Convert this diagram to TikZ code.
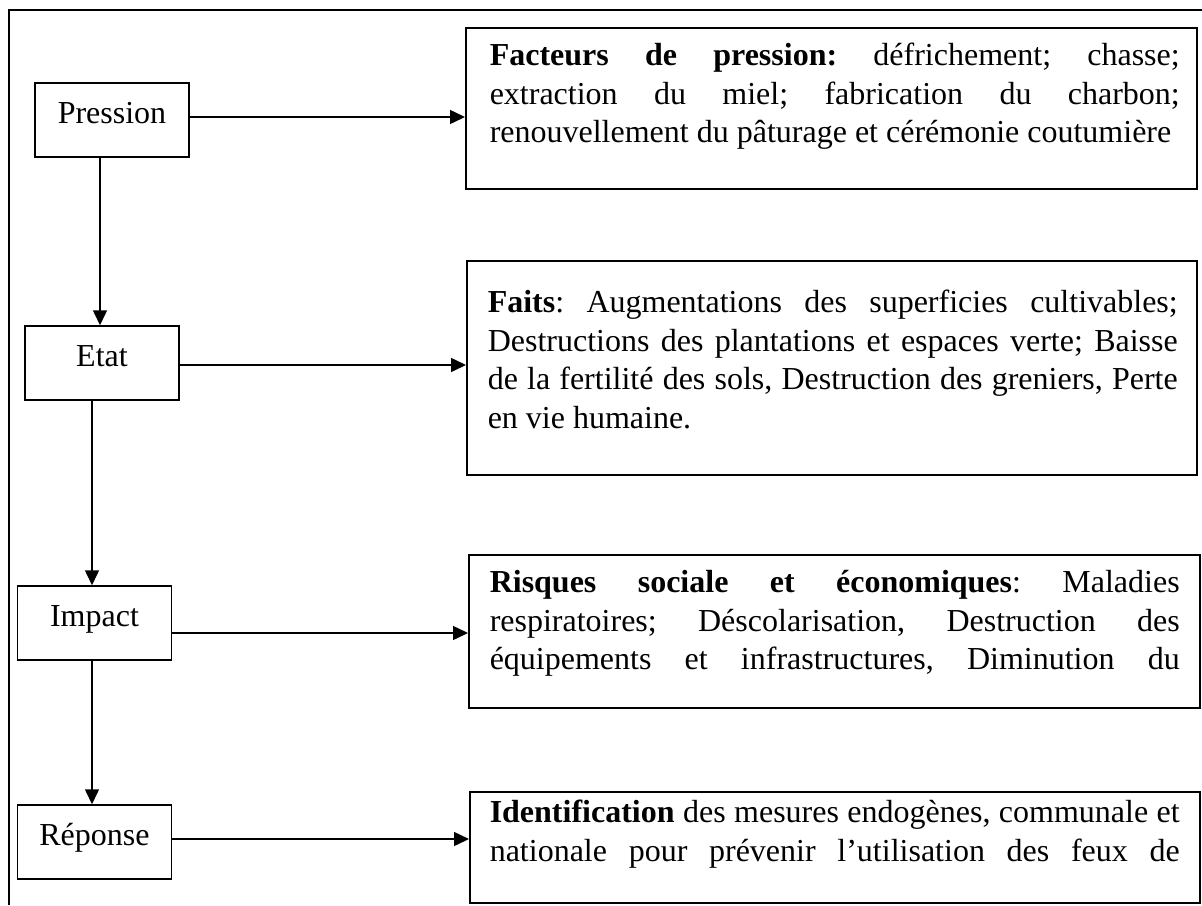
\documentclass[tikz,border=0pt]{standalone}
\usepackage{fontspec}
\setmainfont{Liberation Serif}
\usetikzlibrary{arrows.meta,calc}
\newcommand{\jline}[1]{\makebox[690pt][s]{#1}}
\newcommand{\lline}[1]{\makebox[690pt][l]{#1}}
\begin{document}
\frenchspacing
\begin{tikzpicture}[x=1pt,y=-1pt,
  every node/.style={font=\fontsize{32pt}{38.5pt}\selectfont},
  lbox/.style={draw, line width=1.5pt, minimum width=154pt, inner sep=0pt,
    text height=40.5pt, text depth=33.5pt},
  tbox/.style={draw, line width=1.5pt, inner sep=0pt, anchor=north west},
  arr/.style={line width=1.5pt, -{Triangle[length=15pt,width=14pt]}}]
\useasboundingbox (0,0) rectangle (1202,905);
% outer frame (cut by the page)
\draw[line width=1.5pt] (9,905) -- (9,10) -- (1202,10);

% left column
\node[lbox] (p)  at (112,120)  {Pression};
\node[lbox] (e)  at (102,363)  {Etat};
\node[lbox] (im) at (94.5,623) {Impact};
\node[lbox] (r)  at (94.5,842) {Réponse};

% right column
\node[tbox, text height=38pt, text depth=123pt] (fp) at (465,27)
 {\hspace*{24pt}\parbox[t]{690pt}{%
  \jline{\textbf{Facteurs de pression:} défrichement; chasse;}\\
  \jline{extraction du miel; fabrication du charbon;}\\
  \lline{renouvellement du pâturage et cérémonie coutumière}}\hspace*{17pt}};

\node[tbox, text height=52pt, text depth=162pt] (fa) at (466,260)
 {\hspace*{21pt}\parbox[t]{690pt}{%
  \jline{\textbf{Faits}: Augmentations des superficies cultivables;}\\
  \jline{Destructions des plantations et espaces verte; Baisse}\\
  \jline{de la fertilité des sols, Destruction des greniers, Perte}\\
  \lline{en vie humaine.}}\hspace*{19pt}};

\node[tbox, text height=38pt, text depth=115pt] (ri) at (468,554)
 {\hspace*{21pt}\parbox[t]{690pt}{%
  \jline{\textbf{Risques sociale et économiques}: Maladies}\\
  \jline{respiratoires; Déscolarisation, Destruction des}\\
  \jline{équipements et infrastructures, Diminution du}}\hspace*{20pt}};

\node[tbox, text height=31pt, text depth=80pt] (id) at (469,791)
 {\hspace*{20pt}\parbox[t]{690pt}{%
  \jline{\textbf{Identification} des mesures endogènes, communale et}\\
  \jline{nationale pour prévenir l’utilisation des feux de}}\hspace*{20pt}};

% horizontal connectors
\coordinate (pa) at ($(p.east)+(0,-3)$);
\coordinate (ea) at ($(e.east)+(0,2)$);
\coordinate (ia) at ($(im.east)+(0,10)$);
\coordinate (ra) at ($(r.east)+(0,-3)$);
\draw[arr] (pa) -- (pa -| fp.west);
\draw[arr] (ea) -- (ea -| fa.west);
\draw[arr] (ia) -- (ia -| ri.west);
\draw[arr] (ra) -- (ra -| id.west);

% vertical connectors
\coordinate (pv) at ($(p.south)+(-12,0)$);
\coordinate (ev) at ($(e.south)+(-10,0)$);
\coordinate (iv) at ($(im.south)+(-2.5,0)$);
\draw[arr] (pv) -- (pv |- e.north);
\draw[arr] (ev) -- (ev |- im.north);
\draw[arr] (iv) -- (iv |- r.north);
\end{tikzpicture}
\end{document}
